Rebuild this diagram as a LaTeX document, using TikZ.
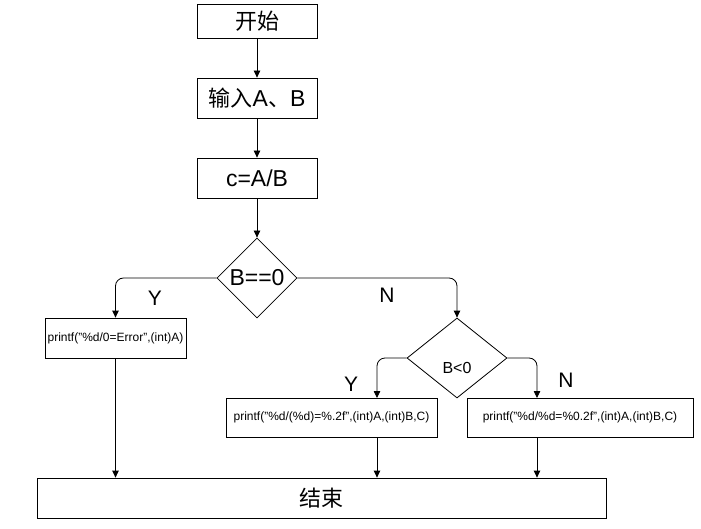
\documentclass[tikz,border=0pt]{standalone}
\usepackage{fontspec}
\setmainfont{Liberation Sans}
\newfontfamily\cjk{Noto Sans CJK SC}
\usetikzlibrary{shapes.geometric,arrows.meta}
\tikzstyle{box} = [draw, line width=0.8pt, rectangle, inner sep=0pt, text centered, minimum height=40pt]
\tikzstyle{decision} = [draw, line width=0.8pt, diamond, inner sep=0pt, minimum width=80pt, minimum height=80pt]
\tikzstyle{flow} = [draw, line width=0.8pt, -{Triangle[length=7pt,width=6.5pt]}]
\tikzstyle{yn} = [font=\fontsize{21}{24}\selectfont]
\newcommand{\bigtext}{\fontsize{23}{26}\selectfont}
\newcommand{\cjktext}{\fontsize{22}{26}\selectfont\cjk}
\newcommand{\codetext}{\fontsize{12}{14}\selectfont}

\begin{document}
\begin{tikzpicture}[x=1pt,y=-1pt]
\useasboundingbox (0,0) rectangle (701,529);
\node[box, minimum width=120pt, minimum height=34pt] (start) at (257,21) {\cjktext 开始};
\node[box, minimum width=120pt] (input) at (257,98) {\bigtext{\cjktext 输入}A{\cjktext 、}B};
\node[box, minimum width=120pt] (calc) at (257,178) {\bigtext c=A/B};
\node[decision] (zero) at (257,278) {\bigtext B==0};
\node[box, minimum width=141pt] (error) at (115.5,338) {\codetext printf("\%d/0=Error",(int)A)};
\node[decision, minimum width=100pt, label={[yshift=-10pt, font=\fontsize{16}{19}\selectfont]center:B<0}] (neg) at (457,358) {};
\node[box, minimum width=211pt, minimum height=39pt] (negout) at (331.5,417.5) {\codetext printf("\%d/(\%d)=\%.2f",(int)A,(int)B,C)};
\node[box, minimum width=226pt, minimum height=39pt] (posout) at (580,417.5) {\codetext printf("\%d/\%d=\%0.2f",(int)A,(int)B,C)};
\node[box, minimum width=569pt] (stop) at (321.5,498) {\cjktext 结束};
% branch labels
\node[yn] (yzero) at (155,298) {Y};
\node[yn] (nzero) at (387,295) {N};
\node[yn] (yneg) at (351,384) {Y};
\node[yn] (nneg) at (566,380) {N};
\coordinate (negin) at (377,398);
\coordinate (posin) at (537,398);

\path[flow] (start) -- (input);
\path[flow] (input) -- (calc);
\path[flow] (calc) -- (zero);
\path[flow, rounded corners=8pt] (zero.west) -| (error.north);
\path[flow, rounded corners=8pt] (zero.east) -| (neg.north);
\path[flow, rounded corners=8pt] (neg.west) -| (negin);
\path[flow, rounded corners=8pt] (neg.east) -| (posin);
\path[flow] (error.south) -- (error.south |- stop.north);
\path[flow] (negout.south -| negin) -- (stop.north -| negin);
\path[flow] (posout.south -| posin) -- (stop.north -| posin);
\end{tikzpicture}
\end{document}
